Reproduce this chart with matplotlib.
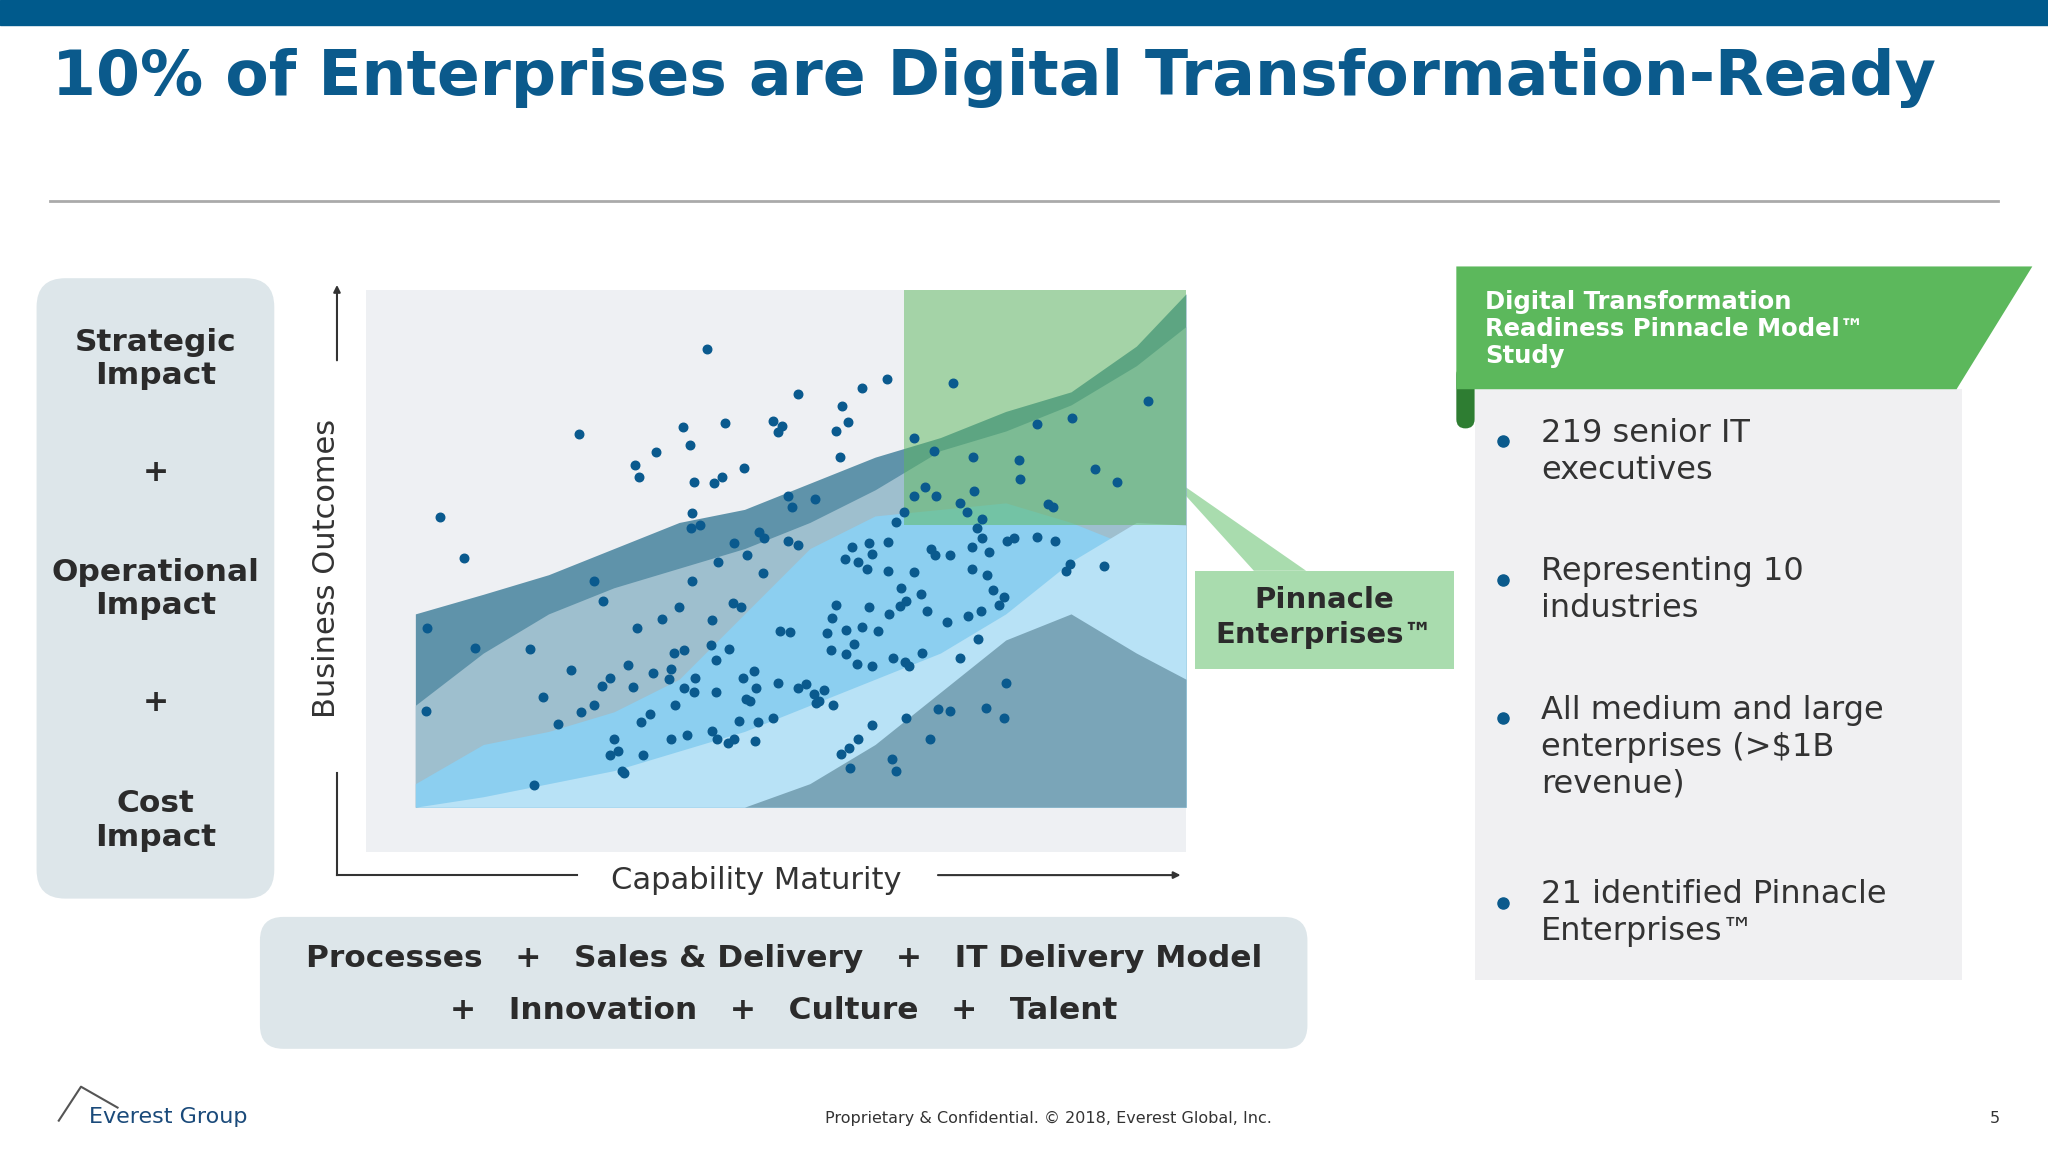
import matplotlib
matplotlib.use("Agg")
import matplotlib.pyplot as plt
from matplotlib.patches import FancyBboxPatch, Polygon, Rectangle

# scatter points (chart pixel units)
pts_x = [541,611,660,679,730,645,443,523,555,592,599,596,640,649,502,486,489,528,570,547,531,553,643,337,355,603,624,606,530,536,529,581,562,572,585,603,611,550,530,584,455,462,520,561,567,545,488,507,327,364,406,516,524,544,558,548,532,577,597,605,514,500,512,524,481,437,467,461,455,416,445,427,491,498,517,531,548,569,579,571,574,566,580,592,596,611,617,623,627,631,485,470,473,467,492,476,478,514,526,545,549,557,562,578,409,326,636,648,656,668,684,693,706,633,637,640,648,654,660,665,672,681,689,690,700,680,664,657,647,652,668,665,680,686,692,700,708,717,700,715,745,780,781,746,735,740,752,748,752,713,716,727,744,757,771,776,794,808,802,806,794,821,879,838,855,819,816,845,744,756,760,769,765,751,741,749,725,735,710,705,694,696,718,727,755,769,770,694,712,657,650,644,668,683,686,651,625,638]
pts_y = [267,302,297,290,293,311,332,327,324,322,326,331,330,323,346,356,365,341,358,370,369,365,350,396,427,380,382,388,393,402,404,407,416,425,412,414,417,430,445,439,445,460,465,462,465,475,481,474,481,496,497,500,498,494,497,505,519,514,483,484,512,515,520,527,509,513,519,525,540,534,545,554,553,547,540,530,530,519,527,535,537,552,553,550,523,527,524,531,537,528,526,566,575,578,578,590,592,566,563,560,566,569,566,567,601,544,498,501,508,510,504,507,500,485,473,463,482,493,480,465,483,470,464,450,438,437,436,430,428,419,424,416,415,400,392,380,373,380,335,345,350,352,367,376,385,392,397,404,412,420,425,425,419,423,414,412,411,414,386,388,325,320,307,359,369,432,437,433,436,440,452,457,463,468,472,489,476,504,468,455,460,510,543,544,542,550,523,550,566,566,573,577,555,581,590,588,538,540]

# mountain layers: x grid and top edge of each layer
wave_x = [318, 370, 420, 470, 520, 570, 620, 670, 720, 770, 820, 870, 908]
wave_back = [470, 455, 440, 420, 400, 390, 370, 350, 335, 315, 300, 265, 225]
wave_mid = [540, 500, 470, 450, 435, 420, 400, 375, 345, 330, 310, 280, 250]
wave_light = [600, 570, 560, 545, 520, 470, 420, 395, 390, 385, 400, 420, 430]
wave_front = [618, 610, 600, 590, 575, 560, 540, 520, 500, 470, 430, 400, 402]
wave_right = [618, 618, 618, 618, 618, 618, 600, 570, 530, 490, 470, 500, 520]

title = "10% of Enterprises are Digital Transformation-Ready"
bullets = ["219 senior IT\nexecutives", "Representing 10\nindustries",
           "All medium and large\nenterprises (>$1B\nrevenue)", "21 identified Pinnacle\nEnterprises\u2122"]
bullet_y = [338, 444, 550, 691]

BLUE = "#0b5a8c"
fig = plt.figure(figsize=(20.48, 11.52), dpi=100)
ax = fig.add_axes([0, 0, 1, 1])
ax.set_xlim(0, 1568)
ax.set_ylim(882, 0)
ax.axis("off")

ax.add_patch(Rectangle((0, 0), 1568, 19, color="#005a8c"))
ax.text(40, 60, title, fontsize=45.5, fontweight="bold", color=BLUE, va="center")
ax.plot([38, 1530], [154, 154], color="#aaaaaa", lw=2)

# left panel
ax.add_patch(FancyBboxPatch((28, 213), 182, 475, boxstyle="round,pad=0,rounding_size=22", color="#dde6ea", lw=0))
for txt, y in [("Strategic\nImpact", 275), ("+", 362), ("Operational\nImpact", 451), ("+", 538), ("Cost\nImpact", 628)]:
    ax.text(119, y, txt, fontsize=22.5, fontweight="bold", color="#2b2b2b", ha="center", va="center", linespacing=1.2)

# axis arrows
ax.annotate("", xy=(258, 216), xytext=(258, 278), arrowprops=dict(arrowstyle="-|>", color="#333", lw=1.5))
ax.plot([258, 258], [592, 670], color="#333", lw=1.5)
ax.plot([258, 442], [670, 670], color="#333", lw=1.5)
ax.annotate("", xy=(906, 670), xytext=(716, 670), arrowprops=dict(arrowstyle="-|>", color="#333", lw=1.5))
ax.text(250, 435, "Business Outcomes", fontsize=22, rotation=90, ha="center", va="center", color="#333")
ax.text(579, 674, "Capability Maturity", fontsize=22, ha="center", va="center", color="#333")

# bottom box
ax.add_patch(FancyBboxPatch((199, 702), 802, 101, boxstyle="round,pad=0,rounding_size=18", color="#dde6ea", lw=0))
ax.text(600, 734, "Processes   +   Sales & Delivery   +   IT Delivery Model", fontsize=22.5, fontweight="bold", ha="center", va="center", color="#2b2b2b")
ax.text(600, 774, "+   Innovation   +   Culture   +   Talent", fontsize=22.5, fontweight="bold", ha="center", va="center", color="#2b2b2b")

# callout
ax.add_patch(Polygon([(892, 362), (960, 437), (1000, 437)], color="#a9dcae", lw=0))
ax.add_patch(Rectangle((915, 437), 198, 75, color="#a9dcae", lw=0))
ax.text(1014, 473, "Pinnacle\nEnterprises\u2122", fontsize=21, fontweight="bold", ha="center", va="center", color="#2b2b2b", linespacing=1.3)

# right panel
ax.add_patch(Rectangle((1129, 298), 373, 452, color="#f0f0f2", lw=0))
ax.add_patch(FancyBboxPatch((1115, 280), 14, 48, boxstyle="round,pad=0,rounding_size=7", color="#2e7d32", lw=0))
ax.add_patch(Polygon([(1115, 204), (1556, 204), (1498, 298), (1115, 298)], color="#5cb85c", lw=0))
ax.text(1137, 252, "Digital Transformation\nReadiness Pinnacle Model\u2122\nStudy", fontsize=17.5, fontweight="bold", color="white", va="center", linespacing=1.15)
for b, y in zip(bullets, bullet_y):
    ax.plot(1151, y, "o", color=BLUE, ms=8)
    ax.text(1180, y - 18, b, fontsize=23, color="#333", va="top", linespacing=1.25)

# footer
ax.text(68, 855, "Everest Group", fontsize=16, color="#1a4a7a", va="center", fontfamily="Liberation Sans Narrow")
ax.plot([45, 62, 90], [858, 832, 848], color="#555", lw=1.5)
ax.text(803, 856, "Proprietary & Confidential. \u00a9 2018, Everest Global, Inc.", fontsize=11.5, ha="center", va="center", color="#333")
ax.text(1527, 856, "5", fontsize=11.5, ha="center", va="center", color="#333")

# chart
cx = fig.add_axes([280 / 1568, 1 - 652 / 882, 628 / 1568, 430 / 882])
cx.set_xlim(280, 908)
cx.set_ylim(652, 222)
cx.axis("off")
cx.add_patch(Rectangle((280, 222), 628, 430, color="#eef0f3", lw=0))
base = [618] * len(wave_x)
cx.fill_between(wave_x, base, wave_back, color="#5f93aa", lw=0)
cx.fill_between(wave_x, base, wave_mid, color="#9ebfce", lw=0)
cx.fill_between(wave_x, base, wave_light, color="#8ccff0", lw=0)
cx.fill_between(wave_x, base, wave_front, color="#b8e2f6", lw=0)
cx.fill_between(wave_x, base, wave_right, color="#7aa5b8", lw=0)
cx.add_patch(Rectangle((692, 222), 216, 180, color="#5cb85c", alpha=0.5, lw=0))
cx.scatter(pts_x, pts_y, s=38, color="#0a5a8e", zorder=5)

fig.savefig("out.png", dpi=100)
